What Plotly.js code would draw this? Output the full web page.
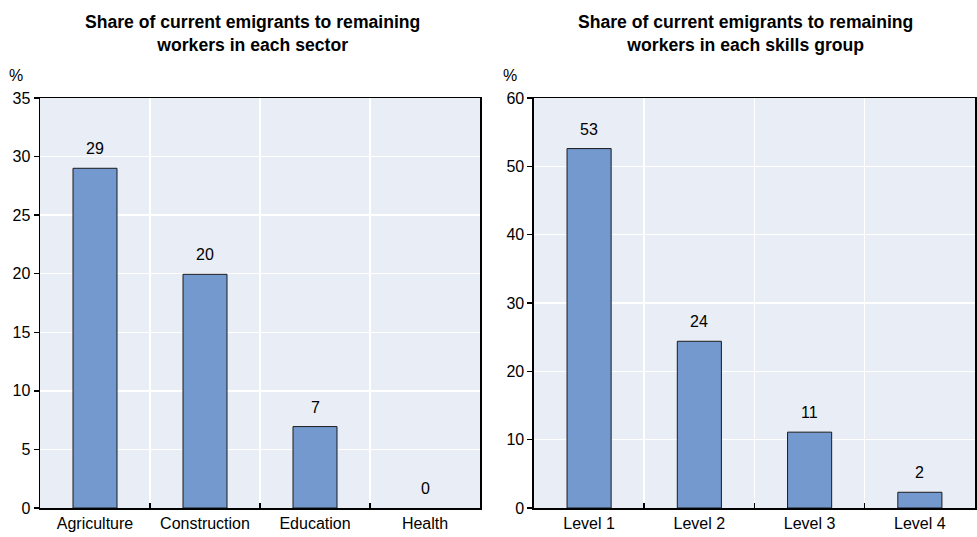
<!DOCTYPE html>
<html><head><meta charset="utf-8">
<script src="https://cdn.plot.ly/plotly-3.0.1.min.js"></script>
<style>body{margin:0;padding:0;background:#fff}#chart{width:977px;height:537px}</style>
</head><body><div id="chart"></div>
<script>
const sectors = ["Agriculture", "Construction", "Education", "Health"];
const sectorShares = [29, 19.95, 6.95, 0];
const skills = ["Level 1", "Level 2", "Level 3", "Level 4"];
const skillShares = [52.6, 24.4, 11.1, 2.3];
const titleLeft = "Share of current emigrants to remaining<br>workers in each sector";
const titleRight = "Share of current emigrants to remaining<br>workers in each skills group";

const FONT = "Liberation Sans Narrow, Arial Narrow, Liberation Sans, Arial, sans-serif";
const barColor = "#7399cf";
const bg = "#e9edf6";

function outline(vals) { return vals.map(v => v > 0 ? 1 : 0); }

const traces = [
  {type:"bar", x:sectors, y:sectorShares, xaxis:"x", yaxis:"y", width:0.4,
   marker:{color:barColor, line:{color:"#1a1a1a", width:outline(sectorShares)}}, hoverinfo:"skip"},
  {type:"bar", x:skills, y:skillShares, xaxis:"x2", yaxis:"y2", width:0.4,
   marker:{color:barColor, line:{color:"#1a1a1a", width:outline(skillShares)}}, hoverinfo:"skip"}
];

function labels(cats, vals, xr, yr) {
  return cats.map((c, i) => ({x:c, y:vals[i], xref:xr, yref:yr, text:String(Math.round(vals[i])),
    showarrow:false, yanchor:"bottom", yshift:9, font:{family:FONT, size:16, color:"#000"}}));
}

const xcommon = {type:"category", showline:true, linecolor:"#000", linewidth:1.5, mirror:true,
  ticks:"inside", tickson:"boundaries", ticklen:5, tickcolor:"#000", tickwidth:1.5,
  showgrid:true, gridcolor:"#fff", gridwidth:1.5, tickfont:{family:FONT, size:16, color:"#000"}, fixedrange:true};
const ycommon = {showline:true, linecolor:"#000", linewidth:1.5, mirror:true,
  ticks:"outside", ticklen:5, tickcolor:"#000", tickwidth:1.5,
  showgrid:true, gridcolor:"#fff", gridwidth:1.5, zeroline:false,
  tickfont:{family:FONT, size:16, color:"#000"}, fixedrange:true};

const layout = {
  width:977, height:537,
  margin:{l:40, r:2, t:98, b:29},
  paper_bgcolor:"#fff", plot_bgcolor:bg,
  showlegend:false,
  font:{family:FONT, color:"#000"},
  xaxis: Object.assign({}, xcommon, {domain:[0, 0.4706], anchor:"y"}),
  yaxis: Object.assign({}, ycommon, {range:[0,35], dtick:5, anchor:"x"}),
  xaxis2: Object.assign({}, xcommon, {domain:[0.5283, 1], anchor:"y2"}),
  yaxis2: Object.assign({}, ycommon, {range:[0,60], dtick:10, anchor:"x2"}),
  annotations: [
    {text:titleLeft, xref:"paper", yref:"paper", x:0.227, y:1, yshift:88, xanchor:"center", yanchor:"top",
     showarrow:false, font:{family:FONT, size:17.6, color:"#000", weight:"bold"}},
    {text:titleRight, xref:"paper", yref:"paper", x:0.755, y:1, yshift:88, xanchor:"center", yanchor:"top",
     showarrow:false, font:{family:FONT, size:17.6, color:"#000", weight:"bold"}},
    {text:"%", xref:"paper", yref:"paper", x:0, xshift:-24, y:1, yshift:23, xanchor:"center", yanchor:"middle",
     showarrow:false, font:{family:FONT, size:16, color:"#000"}},
    {text:"%", xref:"paper", yref:"paper", x:0.5283, xshift:-24, y:1, yshift:23, xanchor:"center", yanchor:"middle",
     showarrow:false, font:{family:FONT, size:16, color:"#000"}}
  ].concat(labels(sectors, sectorShares, "x", "y"), labels(skills, skillShares, "x2", "y2"))
};

Plotly.newPlot("chart", traces, layout, {displayModeBar:false, staticPlot:true});
</script></body></html>
